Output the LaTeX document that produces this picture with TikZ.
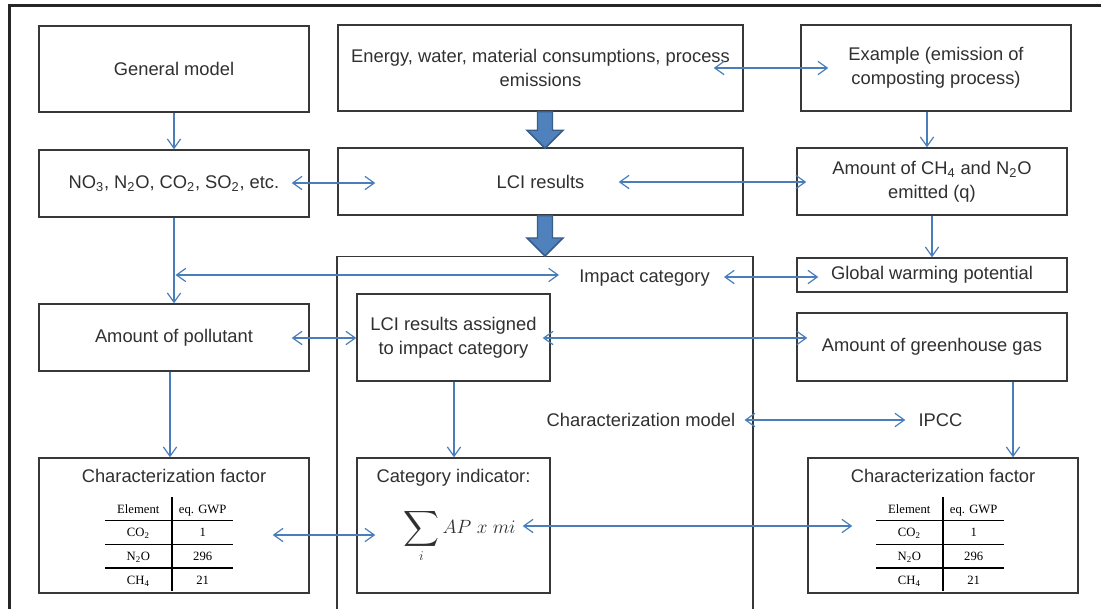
\documentclass[tikz,border=0pt]{standalone}
\usepackage{amsmath}
\usepackage{graphicx}
\usepackage{fontspec}
\setmainfont{Liberation Sans}
\newfontfamily\tabfont{Liberation Serif}
\usepackage{array}
\usetikzlibrary{arrows.meta,calc}

\definecolor{boxc}{HTML}{383838}
\definecolor{txtc}{HTML}{303030}
\definecolor{linec}{HTML}{4A7EBB}
\definecolor{arrfill}{HTML}{4F81BD}
\definecolor{arrdraw}{HTML}{385D8A}
\definecolor{framec}{HTML}{262626}

\newcommand\mainsz{\fontsize{13.75}{18}\selectfont}

% small table of global warming potentials
\newcommand\gwptable{%
  {\tabfont\fontsize{9.5}{12}\selectfont
   \setlength\tabcolsep{0pt}\setlength\arrayrulewidth{1pt}%
   \renewcommand\arraystretch{1.4}%
   \begin{tabular}{>{\centering\arraybackslash}p{49.5pt}|>{\centering\arraybackslash}p{45pt}}
     Element & eq. GWP\\\hline
     CO\textsubscript{2} & 1\\\hline
     N\textsubscript{2}O & 296\\\hline
     CH\textsubscript{4} & 21
   \end{tabular}}}

% enlarged summation sign for the category indicator
\newcommand\bigsum{\mathop{\vcenter{\hbox{\scalebox{1.3}{$\displaystyle\sum$}}}}\limits}

\begin{document}
\begin{tikzpicture}[x=0.75pt,y=-0.75pt,
  box/.style={draw=boxc, line width=1.1pt, fill=white, text=txtc,
              align=center, inner sep=2pt, font=\mainsz},
  sz/.style 2 args={minimum width=#1*0.75pt, minimum height=#2*0.75pt},
  lbl/.style={text=txtc, font=\mainsz, inner sep=0pt, align=center},
  conn/.style={draw=linec, line width=0.9pt,
               -{Straight Barb[length=7pt,width=10pt,line width=0.9pt]}},
  dconn/.style={conn, {Straight Barb[length=7pt,width=10pt,line width=0.9pt]}-{Straight Barb[length=7pt,width=10pt,line width=0.9pt]}},
  bigarr/.style={fill=arrfill, draw=arrdraw, line width=1.1pt, line join=miter},
  tbl/.style={inner sep=0pt, text=black}
]
\useasboundingbox (0,0) rectangle (1101,609);
\clip (0,0) rectangle (1101,609);

% outer frame (top and left edges)
\draw[draw=framec, line width=2.3pt] (9.5,700) -- (9.5,5.5) -- (1200,5.5);

% enclosing impact category box
\node[box, sz={416}{420}, anchor=north] (impbox) at (545,256) {};

% first row
\node[box, sz={270}{86}] (gen) at (174,69) {General model};
\node[box, sz={405}{86}] (energy) at (540.5,68) {Energy, water, material consumptions, process\\emissions};
\node[box, sz={270}{86}] (example) at (936,68) {Example (emission of\\composting process)};

% second row
\node[box, sz={270}{67}] (no3) at (174,183.5) {NO\textsubscript{3}, N\textsubscript{2}O, CO\textsubscript{2}, SO\textsubscript{2}, etc.};
\node[box, sz={405}{67}] (lci) at (540.5,181.5) {LCI results};
\node[box, sz={270}{67}] (ch4) at (932,181.5) {Amount of CH\textsubscript{4} and N\textsubscript{2}O\\emitted (q)};

% third row
\node[lbl] (impact) at (644.5,278) {Impact category};
\node[box, sz={270}{34}] (gwp) at (932,275) {Global warming potential};
\node[box, sz={270}{67}] (poll) at (174,337.5) {Amount of pollutant};
\node[box, sz={193}{87}] (lcia) at (453.5,337.5) {LCI results assigned\\to impact category};
\node[box, sz={270}{68}] (ghg) at (932,347) {Amount of greenhouse gas};

% characterization model row
\node[lbl] (charmodel) at (641,420) {Characterization model};
\node[lbl] (ipcc) at (940.5,420) {IPCC};

% bottom row
\node[box, sz={270}{135}] (cfl) at (174,525.5) {};
\node[box, sz={193}{135}] (cat) at (453.5,525.5) {};
\node[box, sz={270}{135}] (cfr) at (943,525.5) {};

\node[lbl] (cfltitle) at ($(cfl.north)+(0,19)$) {Characterization factor};
\node[tbl] (cfltab) at ($(cfl.north)+(-5,87)$) {\gwptable};
\node[lbl] (cattitle) at ($(cat.north)+(0,20)$) {Category indicator:};
\node[lbl] (catformula) at ($(cat.center)+(6,10)$) {$\displaystyle\bigsum_i AP\;x\;mi$};
\node[lbl] (cfrtitle) at ($(cfr.north)+(0,19)$) {Characterization factor};
\node[tbl] (cfrtab) at ($(cfr.north)+(-3,87)$) {\gwptable};

% thick flow arrows down the middle
\coordinate (a1t) at ($(energy.south)+(4.5,0)$);
\coordinate (a1h) at ($(lci.north)+(4.5,1)$);
\draw[bigarr] ($(a1t)+(-7.5,0)$) -- ($(a1h)+(-7.5,-18)$) -- ($(a1h)+(-18,-18)$) -- (a1h)
  -- ($(a1h)+(18,-18)$) -- ($(a1h)+(7.5,-18)$) -- ($(a1t)+(7.5,0)$) -- cycle;
\coordinate (a2t) at ($(lci.south)+(4.5,0)$);
\coordinate (a2h) at ($(impbox.north)+(0,0)$);
\draw[bigarr] ($(a2t)+(-7.5,0)$) -- ($(a2h)+(-7.5,-18)$) -- ($(a2h)+(-18,-18)$) -- (a2h)
  -- ($(a2h)+(18,-18)$) -- ($(a2h)+(7.5,-18)$) -- ($(a2t)+(7.5,0)$) -- cycle;

% connectors
\draw[conn] (gen.south) -- (no3.north);
\coordinate (p2) at ($(no3.east)+(-18,-0.5)$);
\draw[dconn] (p2) -- ($(lci.west |- p2)+(38,0)$);
\draw[dconn] ($(energy.east)+(-30,0)$) -- ($(example.west)+(28,0)$);
\coordinate (p4) at ($(lci.east)+(-125,0.5)$);
\draw[dconn] (p4) -- ($(ch4.west |- p4)+(10,0)$);
\coordinate (p5) at ($(example.south)+(-9,0)$);
\draw[conn] (p5) -- (p5 |- ch4.north);
\draw[conn] (no3.south) -- (poll.north);
\coordinate (p7) at ($(impact.west)+(-20,-3)$);
\draw[dconn] ($(no3.south |- p7)+(1.5,0)$) -- (p7);
\coordinate (p8) at ($(impact.east)+(14,-1)$);
\draw[dconn] (p8) -- ($(gwp.west |- p8)+(22,0)$);
\draw[conn] (ch4.south) -- (gwp.north);
\coordinate (p10) at ($(poll.east)+(-18,0.5)$);
\draw[dconn] (p10) -- (lcia.west |- p10);
\coordinate (p11) at ($(lcia.east)+(-8,0.5)$);
\draw[dconn] (p11) -- ($(ghg.west |- p11)+(11,0)$);
\coordinate (p12) at ($(poll.south)+(-4,0)$);
\draw[conn] (p12) -- (p12 |- cfl.north);
\coordinate (p13) at ($(lcia.south)+(0.5,0)$);
\draw[conn] (p13) -- (p13 |- cat.north);
\coordinate (p14) at ($(ghg.south)+(81,0)$);
\draw[conn] (p14) -- (p14 |- cfr.north);
\draw[dconn] ($(charmodel.east)+(9,0)$) -- ($(ipcc.west)+(-13,0)$);
\coordinate (p16) at ($(cfl.east)+(-37,9.5)$);
\draw[dconn] (p16) -- ($(cat.west |- p16)+(19,0)$);
\coordinate (p17) at ($(cat.east)+(-28,0.5)$);
\draw[dconn] (p17) -- ($(cfr.west |- p17)+(45,0)$);
\end{tikzpicture}
\end{document}
